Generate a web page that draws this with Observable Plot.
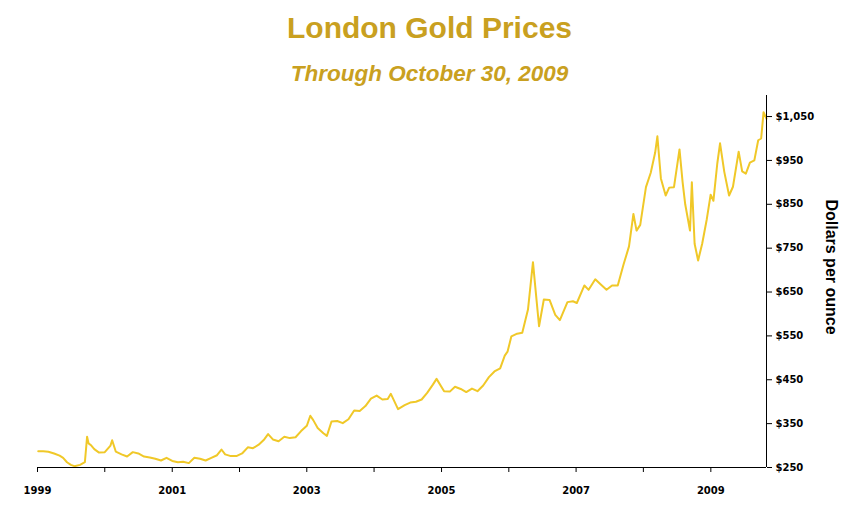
<!DOCTYPE html>
<html><head><meta charset="utf-8">
<script src="https://cdn.jsdelivr.net/npm/d3@7"></script>
<script src="https://cdn.jsdelivr.net/npm/@observablehq/plot@0.6"></script>
<style>
body{margin:0;background:#fff;font-family:Arial,"Liberation Sans",sans-serif}
#wrap{position:relative;width:859px;height:524px}
#t{position:absolute;top:11px;left:0;width:859px;text-align:center;font-weight:bold;font-size:30px;color:#c9a020}
#s{position:absolute;top:61px;left:0;width:859px;text-align:center;font-weight:bold;font-style:italic;font-size:22.5px;color:#c9a020}
#yl{position:absolute;left:831px;top:267px;transform:translate(-50%,-50%) rotate(90deg);white-space:nowrap;font-weight:bold;font-size:16px;color:#000}
#c{position:absolute;top:0;left:0}
</style></head><body>
<div id="wrap"><div id="c"></div><div id="t">London Gold Prices</div><div id="s">Through October 30, 2009</div><div id="yl">Dollars per ounce</div></div>
<script>
const dates = ["1999-01-05","1999-02-01","1999-03-01","1999-04-01","1999-05-01","1999-05-20","1999-06-10","1999-07-01","1999-07-20","1999-08-20","1999-09-15","1999-09-27","1999-10-05","1999-10-20","1999-11-05","1999-12-01",
"2000-01-01","2000-02-01","2000-02-10","2000-03-01","2000-04-01","2000-05-01","2000-06-01","2000-07-01","2000-08-01","2000-09-01","2000-10-01","2000-11-01","2000-12-01",
"2001-01-01","2001-02-01","2001-03-01","2001-04-01","2001-05-01","2001-06-01","2001-07-01","2001-08-01","2001-09-01","2001-09-25","2001-10-15","2001-11-15","2001-12-15",
"2002-01-15","2002-02-15","2002-03-15","2002-04-15","2002-05-15","2002-06-05","2002-07-01","2002-08-01","2002-09-01","2002-10-01","2002-11-01","2002-12-01",
"2003-01-01","2003-01-20","2003-02-05","2003-03-01","2003-04-01","2003-04-20","2003-05-15","2003-06-15","2003-07-15","2003-08-15","2003-09-15","2003-10-15","2003-11-15","2003-12-15",
"2004-01-15","2004-02-15","2004-03-15","2004-04-01","2004-05-10","2004-06-15","2004-07-15","2004-08-15","2004-09-15","2004-10-15","2004-11-15","2004-12-05",
"2005-01-15","2005-02-15","2005-03-15","2005-04-15","2005-05-15","2005-06-15","2005-07-15","2005-08-15","2005-09-15","2005-10-15","2005-11-15","2005-12-10","2005-12-25",
"2006-01-15","2006-02-15","2006-03-15","2006-04-15","2006-05-12","2006-05-25","2006-06-14","2006-07-10","2006-08-10","2006-09-10","2006-10-05","2006-11-15","2006-12-15",
"2007-01-05","2007-02-15","2007-03-10","2007-04-15","2007-05-15","2007-06-15","2007-07-15","2007-08-15","2007-09-15","2007-10-15","2007-11-08","2007-11-25","2007-12-15",
"2008-01-15","2008-02-10","2008-03-05","2008-03-17","2008-04-05","2008-05-01","2008-05-20","2008-06-15","2008-07-15","2008-08-01","2008-08-15","2008-09-10","2008-09-20","2008-10-05","2008-10-24","2008-11-15","2008-12-10","2008-12-31",
"2009-01-15","2009-02-05","2009-02-20","2009-03-15","2009-04-10","2009-05-01","2009-06-01","2009-06-20","2009-07-10","2009-08-01","2009-08-25","2009-09-15","2009-10-01","2009-10-14","2009-10-30"];
const prices = [287,287,286,282,277,272,262,256,253,256,262,320,305,300,292,284,
285,300,312,286,280,275,285,282,275,273,270,266,272,
265,262,263,260,272,270,266,272,278,291,280,276,276,
282,296,294,302,314,326,314,310,320,317,319,333,
345,368,358,340,328,322,355,356,351,360,380,379,390,407,
414,405,406,418,383,392,398,400,405,420,439,452,
424,423,434,429,422,430,424,437,456,469,476,505,514,
549,555,557,610,718,660,572,633,632,598,586,627,629,
625,665,655,679,667,655,665,665,712,754,828,790,803,
889,922,968,1005,909,870,888,889,975,900,850,790,900,760,722,760,816,872,
858,943,989,924,870,890,970,925,920,945,950,996,1000,1060,1045];
const yTicks = [250,350,450,550,650,750,850,950,1050];
const data = dates.map((d,i)=>({date:new Date(d), price:prices[i]}));
const years = d3.range(1999,2010).map(y=>new Date(y+"-01-01"));
const fmt = d3.format("$,");
const chart = Plot.plot({
  width:859, height:524, marginTop:95, marginBottom:57, marginLeft:37, marginRight:93,
  style:{fontFamily:"Verdana, DejaVu Sans, sans-serif", fontSize:"11px", color:"#000", background:"transparent"},
  x:{type:"time", domain:[new Date("1999-01-01"), new Date("2009-10-30")]},
  y:{domain:[250,1098]},
  marks:[
    Plot.line(data,{x:"date",y:"price",stroke:"#f0c828",strokeWidth:2}),
    Plot.ruleY([250],{stroke:"#000"}),
    Plot.ruleX([new Date("2009-10-30")],{stroke:"#000"}),
    Plot.axisX({ticks:years, tickSize:5, tickPadding:14, label:null, fontWeight:"bold", fontSize:10,
      tickFormat:d=>d.getFullYear()%2===1?String(d.getFullYear()):""}),
    Plot.axisY({anchor:"right", ticks:yTicks, tickSize:5, tickFormat:fmt, label:null, fontWeight:"bold", fontSize:10})
  ]
});
document.getElementById("c").appendChild(chart);
</script></body></html>
